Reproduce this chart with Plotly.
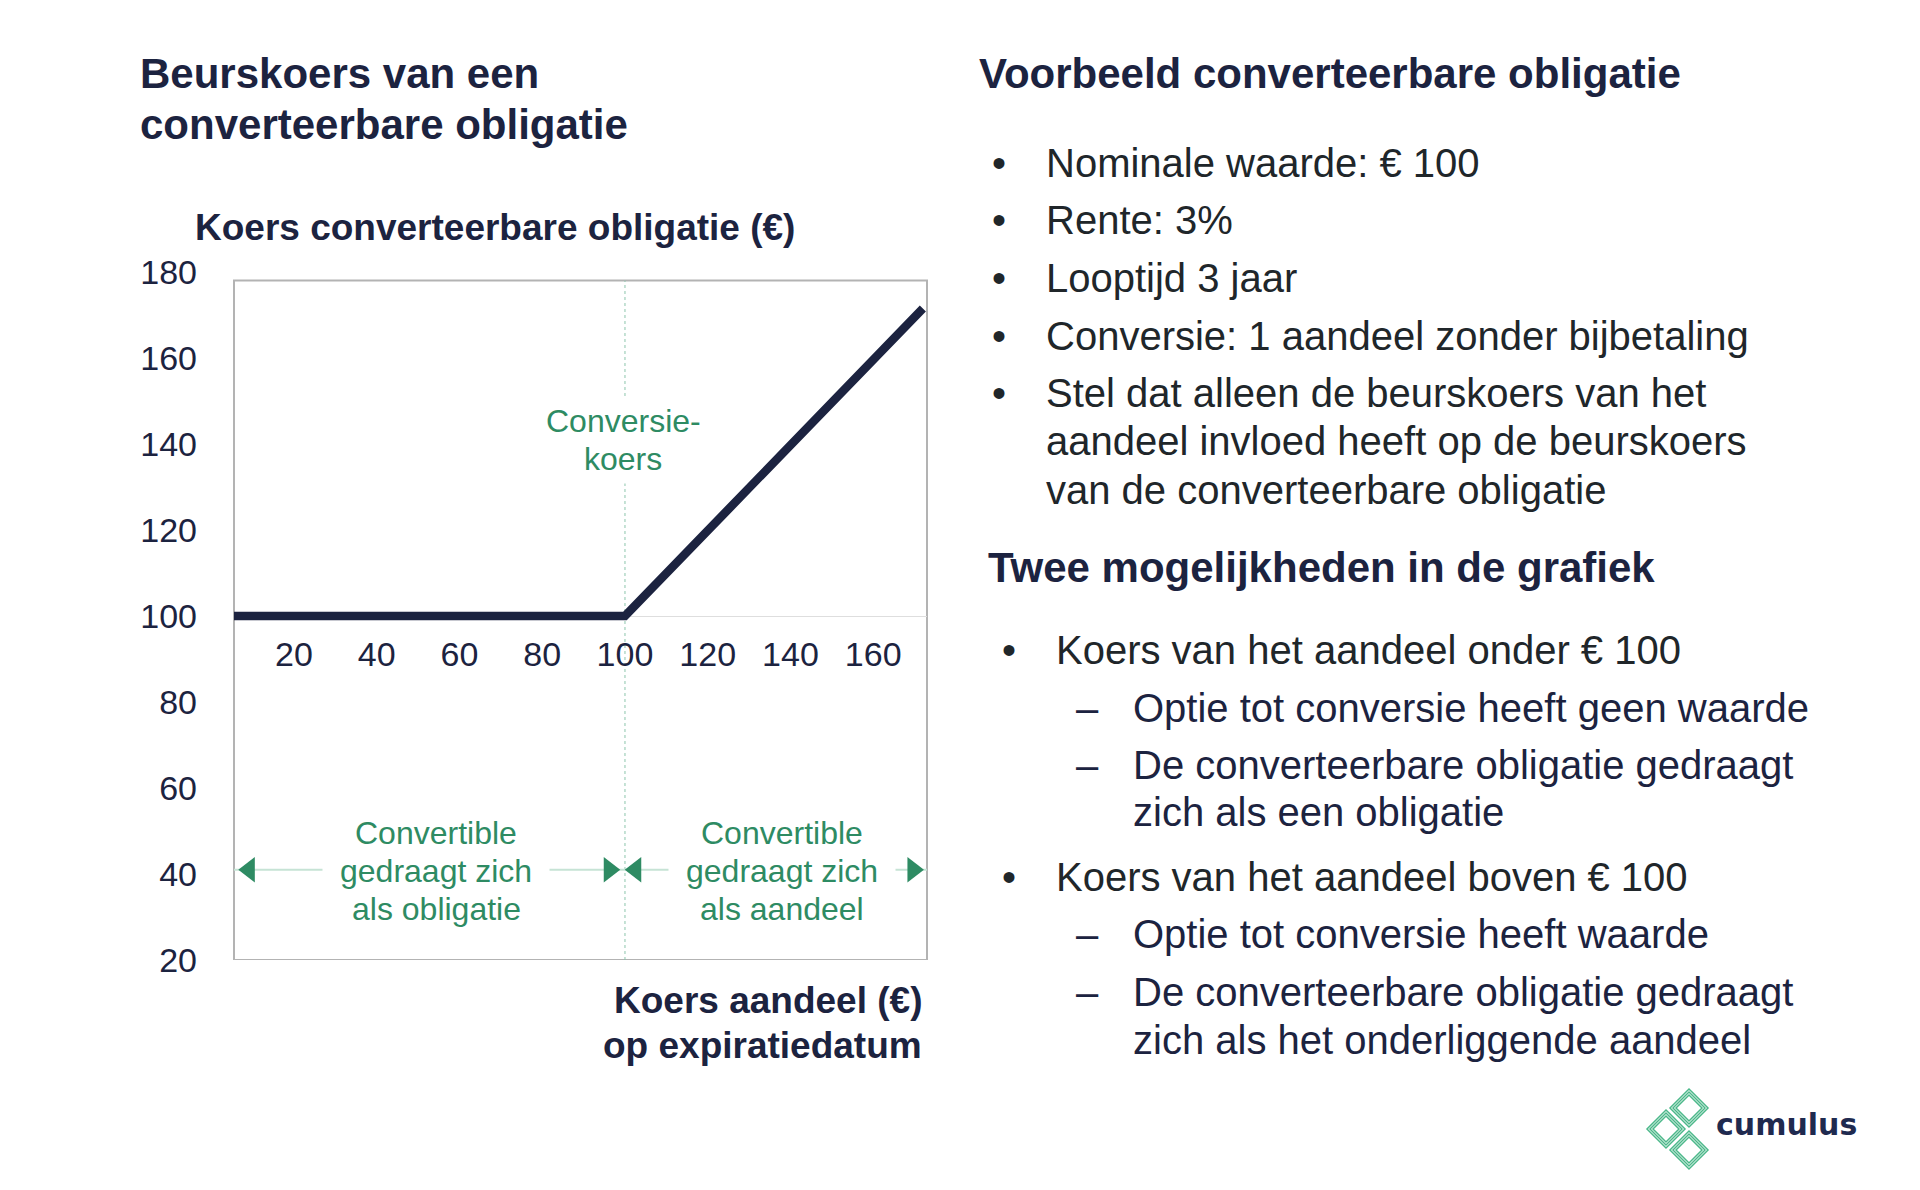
import plotly.graph_objects as go

# ---------------- data ----------------
share_price = [5.5, 100, 172]          # Koers aandeel (€)
bond_price = [100, 100, 171.5]         # Koers converteerbare obligatie (€)
conversion_price = 100
x_tick_vals = [20, 40, 60, 80, 100, 120, 140, 160]
y_tick_vals = [20, 40, 60, 80, 100, 120, 140, 160, 180]
x_range = [5.5, 173]
y_range = [20, 180]
box_top = 178

title_lines = ["Beurskoers van een", "converteerbare obligatie"]
y_title = "Koers converteerbare obligatie (€)"
x_title_lines = ["Koers aandeel (€)", "op expiratiedatum"]
conv_lines = ["Conversie-", "koers"]
left_lines = ["Convertible", "gedraagt zich", "als obligatie"]
right_lines = ["Convertible", "gedraagt zich", "als aandeel"]

right_title = "Voorbeeld converteerbare obligatie"
bullets_1 = [
    ["Nominale waarde: € 100"],
    ["Rente: 3%"],
    ["Looptijd 3 jaar"],
    ["Conversie: 1 aandeel zonder bijbetaling"],
    ["Stel dat alleen de beurskoers van het",
     "aandeel invloed heeft op de beurskoers",
     "van de converteerbare obligatie"],
]
right_title_2 = "Twee mogelijkheden in de grafiek"
bullets_2 = [
    ("Koers van het aandeel onder € 100",
     [["Optie tot conversie heeft geen waarde"],
      ["De converteerbare obligatie gedraagt", "zich als een obligatie"]]),
    ("Koers van het aandeel boven € 100",
     [["Optie tot conversie heeft waarde"],
      ["De converteerbare obligatie gedraagt", "zich als het onderliggende aandeel"]]),
]
logo_text = "cumulus"

# ---------------- style ----------------
W, H = 1920, 1190
FONT = "Liberation Sans, Arial, sans-serif"
NAVY = "#1c2340"
DARK = "#20262a"
GREEN = "#2e8b63"
LIGHT_GREEN = "#c6e3d5"
DOT_GREEN = "#8cc5ad"
LOGO_GREEN = "#4cb88a"

def px(x):
    return x / W

def py(y):
    return 1 - y / H

fig = go.Figure()

fig.add_trace(go.Scatter(
    x=share_price, y=bond_price, mode="lines",
    line=dict(color=NAVY, width=8.5), hoverinfo="skip", cliponaxis=False))

# arrow heads
arrow_y = 41
arrow_x_left = [9.2, 96.2]
arrow_x_right = [102.6, 169.6]
fig.add_trace(go.Scatter(
    x=[arrow_x_left[0], arrow_x_right[0]], y=[arrow_y, arrow_y], mode="markers",
    marker=dict(symbol="triangle-left", size=22, color=GREEN), hoverinfo="skip"))
fig.add_trace(go.Scatter(
    x=[arrow_x_left[1], arrow_x_right[1]], y=[arrow_y, arrow_y], mode="markers",
    marker=dict(symbol="triangle-right", size=22, color=GREEN), hoverinfo="skip"))

# box
fig.add_shape(type="rect", xref="x domain", yref="y", x0=0, x1=1, y0=y_range[0], y1=box_top,
              line=dict(color="#b3b3b3", width=2), layer="below")
# conversion vertical dotted line
fig.add_shape(type="line", xref="x", yref="y", x0=conversion_price, x1=conversion_price,
              y0=y_range[0], y1=box_top, line=dict(color=DOT_GREEN, width=1, dash="dot"), layer="below")
# arrow shafts
fig.add_shape(type="line", xref="x", yref="y", x0=x_range[0], x1=conversion_price,
              y0=arrow_y, y1=arrow_y, line=dict(color=LIGHT_GREEN, width=2), layer="below")
fig.add_shape(type="line", xref="x", yref="y", x0=conversion_price, x1=x_range[1],
              y0=arrow_y, y1=arrow_y, line=dict(color=LIGHT_GREEN, width=2), layer="below")


def txt(text, x, y, size, color, bold=False, xanchor="left", family=FONT,
        bg=None, pad=1):
    fig.add_annotation(text=f"<b>{text}</b>" if bold else text, x=px(x), y=py(y),
                       xref="paper", yref="paper", xanchor=xanchor, yanchor="middle",
                       showarrow=False, bgcolor=bg, borderpad=pad,
                       font=dict(family=family, size=size, color=color))

# chart annotations (green)
conv_cx = 623
for line, yy in zip(conv_lines, [421, 459]):
    txt(line, conv_cx, yy, 32, GREEN, xanchor="center", bg="white", pad=6)

for cx, lines in [(436, left_lines), (782, right_lines)]:
    # middle line first with white background to interrupt the arrow shaft
    txt(lines[1], cx, 871, 32, GREEN, xanchor="center", bg="white", pad=17)
    txt(lines[0], cx, 833, 32, GREEN, xanchor="center")
    txt(lines[2], cx, 909, 32, GREEN, xanchor="center")

# left titles
for line, yy in zip(title_lines, [73, 125]):
    txt(line, 138, yy, 42, NAVY, bold=True)
txt(y_title, 193, 228, 37, NAVY, bold=True)
for line, yy in zip(x_title_lines, [1000, 1045]):
    txt(line, 924, yy, 37, NAVY, bold=True, xanchor="right")

# right column
txt(right_title, 977, 73, 42, NAVY, bold=True)
b1_y = [[163], [220], [278], [336], [393, 441, 490]]
for lines, ys in zip(bullets_1, b1_y):
    txt("•", 990, ys[0], 40, DARK)
    for line, yy in zip(lines, ys):
        txt(line, 1044, yy, 40, DARK)

txt(right_title_2, 986, 567, 42, NAVY, bold=True)
b2_y = [(650, [[708], [765, 812]]), (877, [[934], [992, 1040]])]
for (main, subs), (my, sub_ys) in zip(bullets_2, b2_y):
    txt("•", 1000, my, 40, DARK)
    txt(main, 1054, my, 40, DARK)
    for sub, ys in zip(subs, sub_ys):
        txt("–", 1074, ys[0], 40, NAVY)
        for line, yy in zip(sub, ys):
            txt(line, 1131, yy, 40, NAVY)

# logo
txt(logo_text, 1714, 1124, 30, "#1f2a4f", bold=True, family="DejaVu Sans, sans-serif")
for cx, cy in [(1689, 1108), (1666, 1129), (1689, 1150)]:
    for h in [19, 16, 13]:
        path = (f"M {px(cx)},{py(cy - h)} L {px(cx + h)},{py(cy)} "
                f"L {px(cx)},{py(cy + h)} L {px(cx - h)},{py(cy)} Z")
        fig.add_shape(type="path", path=path, xref="paper", yref="paper",
                      line=dict(color=LOGO_GREEN, width=1.5))

fig.update_layout(
    width=W, height=H, margin=dict(l=0, r=0, t=0, b=0, pad=0, autoexpand=False),
    paper_bgcolor="white", plot_bgcolor="white", showlegend=False,
    xaxis=dict(domain=[px(234), px(927)], range=x_range, tickvals=x_tick_vals,
               showgrid=False, zeroline=False, showline=True, linecolor="#dedede", linewidth=1,
               anchor="free", position=py(616), ticks="", ticklabelstandoff=8,
               layer="below traces", automargin=False,
               tickfont=dict(family=FONT, size=34, color=NAVY), fixedrange=True),
    yaxis=dict(domain=[py(960), py(272)], range=y_range, tickvals=y_tick_vals,
               showgrid=False, zeroline=False, showline=False, ticks="",
               ticklabelstandoff=36, automargin=False,
               tickfont=dict(family=FONT, size=34, color=NAVY), fixedrange=True),
)

fig.write_html("out.html")
